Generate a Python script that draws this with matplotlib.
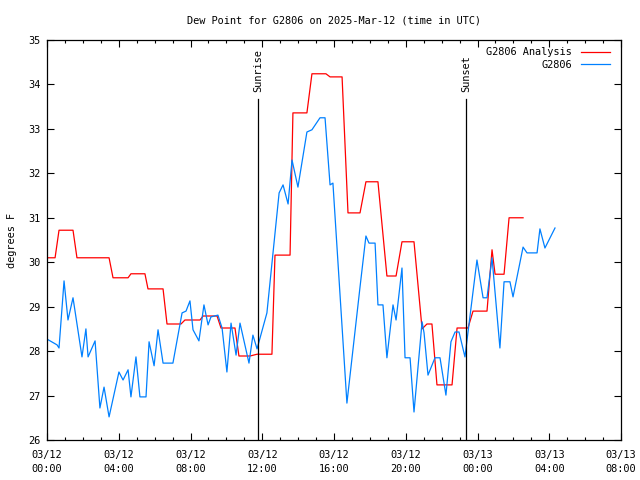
"""plot.py - dew point chart for G2806"""

import matplotlib
matplotlib.use("Agg")
import matplotlib.pyplot as plt
import numpy as np

# data (hours after 2025-03-12 00:00 UTC, degrees F)
red_hours = [0.0, 0.45, 0.67, 1.45, 1.67, 3.46, 3.68, 4.52, 4.68, 5.46,
             5.63, 6.47, 6.69, 7.47, 7.69, 8.53, 8.70, 9.48, 9.70, 10.48,
             10.70, 11.32, 11.71, 12.54, 12.71, 13.55, 13.71, 14.49, 14.77, 15.55,
             15.78, 16.45, 16.78, 17.45, 17.78, 18.45, 18.95, 19.46, 19.79, 20.46,
             20.91, 21.18, 21.46, 21.74, 22.58, 22.86, 23.47, 23.75, 24.53, 24.81,
             24.98, 25.48, 25.76, 26.54]
red_vals = [30.10, 30.10, 30.72, 30.72, 30.10, 30.10, 29.65, 29.65, 29.74, 29.74,
            29.40, 29.40, 28.61, 28.61, 28.70, 28.70, 28.79, 28.79, 28.52, 28.52,
            27.89, 27.89, 27.93, 27.93, 30.16, 30.16, 33.36, 33.36, 34.24, 34.24,
            34.17, 34.17, 31.11, 31.11, 31.81, 31.81, 29.69, 29.69, 30.46, 30.46,
            28.50, 28.61, 28.61, 27.24, 27.24, 28.52, 28.52, 28.90, 28.90, 30.28,
            29.73, 29.73, 31.00, 31.00]

blue_hours = [0.00, 0.56, 0.67, 0.95, 1.17, 1.45, 1.95, 2.17, 2.29, 2.68,
              2.95, 3.18, 3.46, 4.01, 4.24, 4.52, 4.68, 4.96, 5.18, 5.52,
              5.69, 5.97, 6.19, 6.47, 7.02, 7.53, 7.75, 7.97, 8.14, 8.47,
              8.75, 8.98, 9.14, 9.53, 9.76, 10.03, 10.26, 10.54, 10.76, 11.26,
              11.48, 11.71, 12.26, 12.60, 12.94, 13.16, 13.44, 13.66, 13.99, 14.49,
              14.77, 15.22, 15.50, 15.78, 15.94, 16.72, 17.45, 17.78, 17.95, 18.29,
              18.45, 18.73, 18.95, 19.29, 19.46, 19.79, 19.96, 20.24, 20.46, 20.91,
              21.02, 21.24, 21.63, 21.91, 22.24, 22.52, 22.75, 22.97, 23.30, 23.97,
              24.31, 24.53, 24.81, 25.25, 25.48, 25.81, 25.98, 26.54, 26.76, 27.32,
              27.48, 27.76, 28.32]
blue_vals = [28.27, 28.14, 28.07, 29.58, 28.70, 29.20, 27.87, 28.50, 27.87, 28.23,
             26.72, 27.19, 26.52, 27.53, 27.35, 27.58, 26.97, 27.87, 26.97, 26.97,
             28.21, 27.67, 28.48, 27.73, 27.73, 28.86, 28.90, 29.13, 28.48, 28.23,
             29.04, 28.59, 28.77, 28.81, 28.52, 27.53, 28.63, 27.91, 28.63, 27.73,
             28.36, 28.05, 28.86, 30.21, 31.56, 31.74, 31.31, 32.30, 31.69, 32.93,
             32.98, 33.25, 33.25, 31.74, 31.78, 26.83, 29.44, 30.59, 30.43, 30.43,
             29.04, 29.04, 27.85, 29.04, 28.70, 29.87, 27.85, 27.85, 26.63, 28.66,
             28.41, 27.46, 27.85, 27.85, 27.01, 28.21, 28.43, 28.43, 27.87, 30.05,
             29.20, 29.20, 30.10, 28.07, 29.56, 29.56, 29.22, 30.34, 30.21, 30.21,
             30.75, 30.32, 30.77]

sunrise = 11.76
sunset = 23.36

tick_hours = [0, 4, 8, 12, 16, 20, 24, 28, 32]
tick_labels = ["03/12\n00:00", "03/12\n04:00", "03/12\n08:00", "03/12\n12:00",
               "03/12\n16:00", "03/12\n20:00", "03/13\n00:00", "03/13\n04:00",
               "03/13\n08:00"]

plt.rcParams['font.family'] = ['DejaVu Sans Mono']
fs = 7.4

fig = plt.figure(figsize=(6.4, 4.8), dpi=100)
ax = fig.add_axes([47/640, 40/480, 574/640, 400/480])

ax.plot(red_hours, red_vals, color='#ff0000', lw=0.9, label='G2806 Analysis')
ax.plot(blue_hours, blue_vals, color='#0080ff', lw=0.9, label='G2806')

# sunrise / sunset markers
ax.plot([sunrise, sunrise], [26, 33.67], 'k-', lw=0.9)
ax.plot([sunset, sunset], [26, 33.67], 'k-', lw=0.9)
ax.text(sunrise, 33.83, "Sunrise", rotation=90, ha='center', va='bottom', fontsize=fs)
ax.text(sunset, 33.83, "Sunset", rotation=90, ha='center', va='bottom', fontsize=fs)

ax.set_xlim(0, 32)
ax.set_ylim(26, 35)
ax.set_xticks(tick_hours)
ax.set_xticklabels(tick_labels, fontsize=fs, linespacing=1.5)
ax.set_xticks(np.arange(0, 33, 1), minor=True)
ax.set_yticks(np.arange(26, 36, 1))
ax.tick_params(axis='y', labelsize=fs, pad=5)
ax.tick_params(axis='x', pad=7)
ax.tick_params(which='both', direction='in', top=True, right=True, width=0.8)
ax.tick_params(which='major', length=5)
ax.tick_params(which='minor', length=2.5)
for s in ax.spines.values():
    s.set_linewidth(0.9)

ax.set_title("Dew Point for G2806 on 2025-Mar-12 (time in UTC)", fontsize=fs, pad=12)
ax.set_ylabel("degrees F", fontsize=fs, labelpad=8)

ax.legend(loc='upper right', bbox_to_anchor=(0.993, 1.0), frameon=False,
          markerfirst=False, fontsize=fs, handlelength=2.8, handletextpad=0.9,
          labelspacing=0.25, borderaxespad=0.3)

fig.savefig("out.png", dpi=100)
